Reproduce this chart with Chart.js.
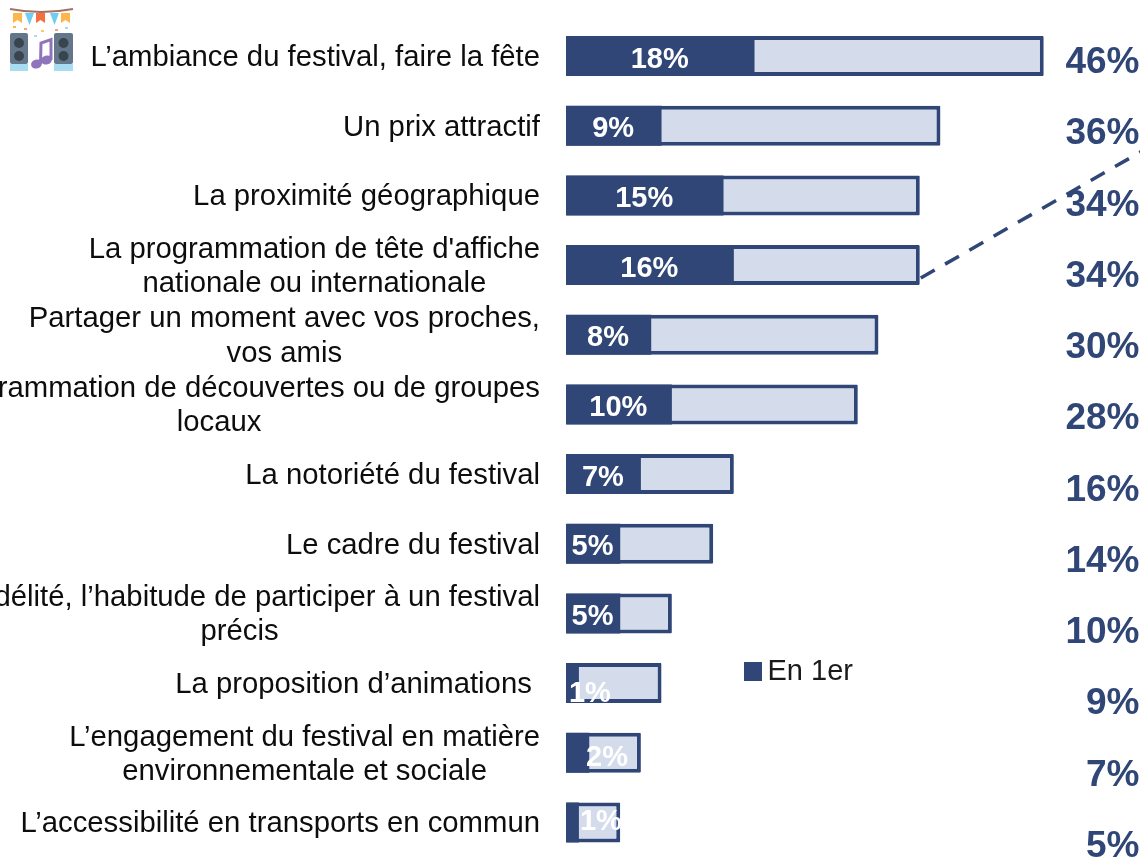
<!DOCTYPE html>
<html><head><meta charset="utf-8">
<style>html,body{margin:0;padding:0;background:#fff;overflow:hidden}canvas{display:block}</style>
<script src="https://cdn.jsdelivr.net/npm/chart.js@4"></script>
</head><body><canvas id="c" width="1140" height="858"></canvas>
<script>
const categories = [
  ["L\u2019ambiance du festival, faire la fête"],
  ["Un prix attractif"],
  ["La proximité géographique"],
  ["La programmation de tête d'affiche","nationale ou internationale"],
  ["Partager un moment avec vos proches,","vos amis"],
  ["La programmation de découvertes ou de groupes","locaux"],
  ["La notoriété du festival"],
  ["Le cadre du festival"],
  ["La fidélité, l\u2019habitude de participer à un festival","précis"],
  ["La proposition d\u2019animations\u00a0"],
  ["L\u2019engagement du festival en matière","environnementale et sociale"],
  ["L\u2019accessibilité en transports en commun"]
];
const firstRank = [18, 9, 15, 16, 8, 10, 7, 5, 5, 1, 2, 1];
const total = [46, 36, 34, 34, 30, 28, 16, 14, 10, 9, 7, 5];
const seriesNames = ["En 1er", "Citations"];
const DARK = "#2f4676", LIGHT = "#d4dcec";
const AXIS_START = -0.25;
const labelShift = [[0,0],[0,0],[0,0],[0,0],[0,0],[0,0],[0,0],[0,0],[0,0],[18,7.5],[30,1.5],[29,-3.5]];

function drawIcon(ctx){
  ctx.save();
  ctx.strokeStyle="#a5705f";ctx.lineWidth=2;ctx.beginPath();ctx.moveTo(10,9);ctx.quadraticCurveTo(41,15,73,9);ctx.stroke();
  [[13,22,"#fdb64a",0],[25,25,"#70cdf0",1],[36,22,"#f4703f",0],[50,25,"#70cdf0",1],[61,22,"#fdb64a",0]].forEach(f=>{
    ctx.fillStyle=f[2];ctx.beginPath();ctx.moveTo(f[0],13);ctx.lineTo(f[0]+9,13);
    if(f[3]){ctx.lineTo(f[0]+4.5,f[1]);}else{ctx.lineTo(f[0]+9,f[1]+1);ctx.lineTo(f[0]+4.5,f[1]-2);ctx.lineTo(f[0],f[1]+1);}
    ctx.closePath();ctx.fill();
  });
  [[13,26,"#fdb64a"],[24,28,"#f8a17f"],[41,30,"#fdc76a"],[34,35,"#a8dcf3"],[55,29,"#f8a17f"],[65,27,"#a8dcf3"]].forEach(c=>{ctx.fillStyle=c[2];ctx.fillRect(c[0],c[1],3,2);});
  [[10,19],[54,63.5]].forEach(s=>{
    ctx.fillStyle="#64778a";ctx.beginPath();ctx.roundRect(s[0],33,s[0]===10?18:19,31,2);ctx.fill();
    ctx.fillStyle="#a8dcf3";ctx.fillRect(s[0],64,s[0]===10?18:19,7);
    ctx.fillStyle="#38454f";
    [43,56].forEach(y=>{ctx.beginPath();ctx.arc(s[1],y,5,0,Math.PI*2);ctx.fill();});
  });
  ctx.fillStyle=ctx.strokeStyle="#8f73bb";ctx.lineWidth=3;
  ctx.beginPath();ctx.moveTo(40.5,64);ctx.lineTo(41,43);ctx.lineTo(51,39.5);ctx.lineTo(51,60);ctx.stroke();
  ctx.beginPath();ctx.ellipse(36.5,64,5.5,4.5,-0.3,0,Math.PI*2);ctx.fill();
  ctx.beginPath();ctx.ellipse(46.5,60,5.5,4.5,-0.3,0,Math.PI*2);ctx.fill();
  ctx.restore();
}

const annotate = {
  id:"annotate",
  afterLayout(chart){
    const l=chart.legend;
    l.left=744;l.right=900;l.top=649;l.bottom=700;
  },
  afterDraw(chart){
    const {ctx,scales:{x,y}}=chart;
    ctx.save();
    // dashed leader
    ctx.strokeStyle=DARK;ctx.lineWidth=3.5;ctx.setLineDash([16,12]);
    ctx.beginPath();ctx.moveTo(x.getPixelForValue(total[3])+1,y.getPixelForValue(3)+13);
    ctx.lineTo(1144,150);ctx.stroke();ctx.setLineDash([]);
    ctx.textBaseline="middle";
    // category labels
    ctx.font="29.3px 'Liberation Sans', Arial, sans-serif";ctx.fillStyle="#0d0d0d";ctx.textAlign="center";
    categories.forEach((lines,i)=>{
      const w=Math.max(...lines.map(t=>ctx.measureText(t).width));
      const cx=540-w/2, c=y.getPixelForValue(i)+1.8;
      lines.forEach((t,j)=>ctx.fillText(t,cx,c+(j-(lines.length-1)/2)*34.3));
    });
    // in-bar labels
    ctx.font="bold 29px 'Liberation Sans', Arial, sans-serif";ctx.fillStyle="#fff";
    firstRank.forEach((v,i)=>{
      const mid=(x.getPixelForValue(v)+x.getPixelForValue(AXIS_START))/2;
      ctx.fillText(v+"%",mid-0.6+labelShift[i][0],y.getPixelForValue(i)+3.5+labelShift[i][1]);
    });
    // totals column
    ctx.font="bold 37px 'Liberation Sans', Arial, sans-serif";ctx.fillStyle=DARK;ctx.textAlign="right";
    total.forEach((v,i)=>ctx.fillText(v+"%",1139.5,63+i*71.25));
    drawIcon(ctx);
    ctx.restore();
  }
};

new Chart(document.getElementById("c"),{
  type:"bar",
  data:{labels:categories.map(l=>l.join(" ")),datasets:[
    {label:seriesNames[0],data:firstRank,base:AXIS_START,backgroundColor:DARK,borderColor:DARK,borderWidth:0,order:1},
    {label:seriesNames[1],data:total,base:AXIS_START,backgroundColor:LIGHT,borderColor:DARK,borderWidth:4,borderSkipped:false,borderRadius:1,order:2}
  ]},
  options:{
    indexAxis:"y",responsive:false,animation:false,
    layout:{padding:{left:566,right:0,top:21.2,bottom:0.7}},
    datasets:{bar:{grouped:false,categoryPercentage:1,barPercentage:0.574}},
    scales:{
      x:{display:false,min:AXIS_START,max:55.32},
      y:{display:false}
    },
    plugins:{
      tooltip:{enabled:false},
      legend:{position:"chartArea",align:"start",labels:{
        filter:it=>it.datasetIndex===0,
        usePointStyle:true,pointStyle:"rect",boxWidth:1,boxHeight:19,padding:8,color:"#1a1a1a",
        font:{size:29,family:"'Liberation Sans', Arial, sans-serif"}
      }}
    }
  },
  plugins:[annotate]
});
</script></body></html>
